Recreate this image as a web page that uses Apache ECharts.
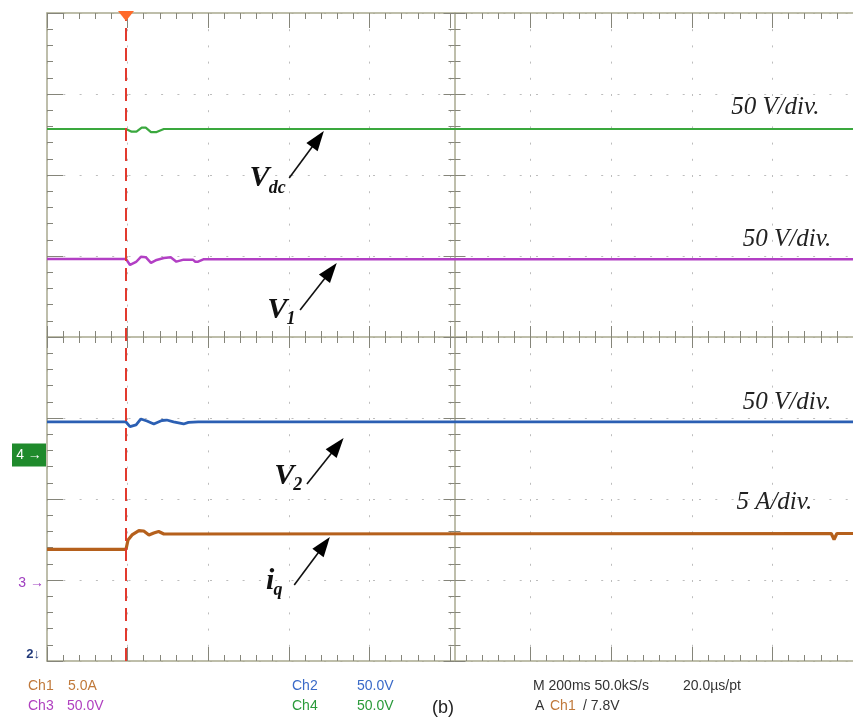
<!DOCTYPE html>
<html><head><meta charset="utf-8">
<script src="https://cdn.jsdelivr.net/npm/echarts@6/dist/echarts.min.js"></script>
<style>html,body{margin:0;padding:0;background:#fff}#c{width:853px;height:720px}</style>
</head><body><div id="c"></div>
<script>
// Time in ms (M 200 ms/div), level in screen divisions (0 = bottom edge, 8 = top edge)
const vdcTime   = [0, 196, 210, 222, 235, 245, 258, 272, 290, 2000];
const vdcLevel  = [6.568, 6.568, 6.535, 6.535, 6.585, 6.585, 6.53, 6.53, 6.568, 6.568];

const v1Time    = [0, 196, 206, 221, 233, 245, 258, 272, 290, 307, 321, 339, 362, 368, 375, 388, 2000];
const v1Level   = [4.962, 4.962, 4.889, 4.926, 4.99, 4.985, 4.914, 4.951, 4.975, 4.985, 4.93, 4.955, 4.955, 4.93, 4.93, 4.959, 4.959];

const v2Time    = [0, 196, 206, 221, 233, 248, 265, 285, 297, 314, 339, 351, 375, 2000];
const v2Level   = [2.951, 2.951, 2.893, 2.914, 2.988, 2.963, 2.926, 2.969, 2.975, 2.951, 2.926, 2.945, 2.951, 2.951];

const iqTime    = [0, 196, 201, 211, 228, 240, 253, 265, 277, 290, 1946, 1953, 1960, 2000];
const iqLevel   = [1.379, 1.379, 1.494, 1.556, 1.609, 1.605, 1.556, 1.58, 1.599, 1.568, 1.574, 1.50, 1.574, 1.574];

const triggerTime = 196;
const markerLabels = ['4 \u2192', '3 \u2192', '2\u2193'];
const markerLevels = [2.543, 0.963, 0.05];
const scaleLabels = ['50 V/div.', '50 V/div.', '50 V/div.', '5 A/div.'];

const chart = echarts.init(document.getElementById('c'), null, {renderer: 'canvas'});
const pair = (t, v) => t.map((x, i) => [x, v[i]]);
const frame = '#a9a98f', tick = '#85857a', dotC = '#bdbdbd';

function ax(kind, gridIndex, min, max, interval, position, showLine, len, mlen, split, dash) {
  return {type: 'value', gridIndex, min, max, interval, position,
    axisLine: {show: showLine, onZero: false, lineStyle: {color: frame, width: 1.5}},
    axisTick: {show: len > 0, inside: true, length: len, lineStyle: {color: tick}},
    minorTick: {show: len > 0, splitNumber: 5, length: mlen, lineStyle: {color: tick}},
    axisLabel: {show: false},
    splitLine: {show: split, lineStyle: {color: dotC, type: dash, width: 1}}};
}
const hidden = (gridIndex, min, max) => ({type: 'value', gridIndex, min, max, show: false});

const line = (data, color, width) => ({type: 'line', xAxisIndex: 0, yAxisIndex: 0, data,
  symbol: 'none', showSymbol: false, silent: true, lineStyle: {color, width}, z: 3});

chart.setOption({
  animation: false,
  backgroundColor: '#fff',
  grid: [
    {left: 47, top: 13, width: 815, height: 648},      // main screen
    {left: 454.5, top: 13, width: 407.5, height: 648}, // right half (center vertical, ticks right)
    {left: 47, top: 13, width: 407.5, height: 648},    // left half (center vertical, ticks left)
    {left: 47, top: 13, width: 815, height: 324},      // upper half (center horizontal, ticks up)
    {left: 47, top: 337, width: 815, height: 324}      // lower half (center horizontal, ticks down)
  ],
  xAxis: [
    ax('x', 0, 0, 2000, 200, 'bottom', true, 14, 6, true, [2, 14.2]),
    ax('x', 0, 0, 2000, 200, 'top', true, 15, 6, false),
    ax('x', 3, 0, 2000, 200, 'bottom', true, 11, 6, false),
    ax('x', 4, 0, 2000, 200, 'top', false, 11, 6, false),
    hidden(1, 1000, 2000),
    hidden(2, 0, 1000)
  ],
  yAxis: [
    ax('y', 0, 0, 8, 1, 'left', true, 16, 6, true, [2, 14.3]),
    ax('y', 1, 0, 8, 1, 'left', true, 11, 6, false),
    ax('y', 2, 0, 8, 1, 'right', false, 11, 6, false),
    hidden(3, 4, 8),
    hidden(4, 0, 4)
  ],
  series: [
    line(pair(vdcTime, vdcLevel), '#3aa83e', 2.2),
    line(pair(v1Time, v1Level), '#b23fc4', 2.5),
    line(pair(v2Time, v2Level), '#2b5fb3', 2.8),
    line(pair(iqTime, iqLevel), '#b5601c', 3.2),
    {type: 'line', xAxisIndex: 0, yAxisIndex: 0, data: [[triggerTime, 8]], symbol: 'none', z: 5,
     lineStyle: {width: 0},
     markLine: {silent: true, symbol: 'none', label: {show: false}, z: 5,
       lineStyle: {color: '#e23a2e', type: [13, 7], width: 2}, data: [{xAxis: triggerTime}]},
     markPoint: {silent: true, symbol: 'triangle', symbolRotate: 180, symbolSize: [16, 10],
       itemStyle: {color: '#ff6a2a'}, label: {show: false},
       data: [{coord: [triggerTime, 8], symbolOffset: [0, 3]}]}}
  ]
});

const P = (x, y) => chart.convertToPixel({gridIndex: 0}, [x, y]);
const G = [];
function arrow(a, b) {
  const p = P(a[0], a[1]), q = P(b[0], b[1]);
  const dx = q[0] - p[0], dy = q[1] - p[1], L = Math.hypot(dx, dy);
  const ux = dx / L, uy = dy / L, hl = 20, hw = 7;
  const bx = q[0] - ux * hl, by = q[1] - uy * hl, nx = -uy, ny = ux;
  G.push({type: 'line', z: 10, shape: {x1: p[0], y1: p[1], x2: bx + ux * 2, y2: by + uy * 2},
    style: {stroke: '#111', lineWidth: 1.6}});
  G.push({type: 'polygon', z: 10, shape: {points: [q, [bx + nx * hw, by + ny * hw], [bx - nx * hw, by - ny * hw]]},
    style: {fill: '#000'}});
}
function txt(t, pos, font, fill, align) {
  G.push({type: 'text', z: 10, style: {text: t, x: pos[0], y: pos[1], font, fill, align: align || 'left', verticalAlign: 'middle'}});
}
const big = 'italic bold 30px "Liberation Serif"', sub = 'italic bold 18px "Liberation Serif"';
arrow([601, 5.963], [687, 6.543]);
arrow([628, 4.333], [719, 4.914]);
arrow([645, 2.185], [736, 2.753]);
arrow([613.5, 0.938], [702, 1.531]);
txt('V', P(552, 5.963), big, '#111', 'right');  txt('dc', P(550, 5.83), sub, '#111');
txt('V', P(596, 4.333), big, '#111', 'right');  txt('1', P(594, 4.22), sub, '#111');
txt('V', P(613.5, 2.284), big, '#111', 'right'); txt('2', P(611, 2.17), sub, '#111');
txt('i', P(564, 0.98), big, '#111', 'right');   txt('q', P(562, 0.87), sub, '#111');

const scalePos = [[1917, 6.84], [1946, 5.21], [1946, 3.198], [1899, 1.963]];
scaleLabels.forEach((s, i) => txt(s, P(scalePos[i][0], scalePos[i][1]), 'italic 25px "Liberation Serif"', '#222', 'right'));

// channel ground markers
const m4 = P(0, markerLevels[0]);
G.push({type: 'rect', z: 10, shape: {x: 12, y: m4[1] - 11.5, width: 34, height: 23}, style: {fill: '#1f8a2c'}});
txt(markerLabels[0], [29, m4[1]], '14px "Liberation Sans"', '#fff', 'center');
txt(markerLabels[1], [44, P(0, markerLevels[1])[1]], '14px "Liberation Sans"', '#a040c0', 'right');
txt(markerLabels[2], [40, P(0, markerLevels[2])[1] - 3], 'bold 13px "Liberation Sans"', '#223a7a', 'right');

// bottom readout
const f = '14px "Liberation Sans"';
const orange = '#c0793a', purple = '#b040c0', blue = '#3a6ac8', green = '#2a9a3a', dark = '#333';
txt('Ch1', [28, 686], f, orange); txt('5.0A', [68, 686], f, orange);
txt('Ch3', [28, 706], f, purple); txt('50.0V', [67, 706], f, purple);
txt('Ch2', [292, 686], f, blue); txt('50.0V', [357, 686], f, blue);
txt('Ch4', [292, 706], f, green); txt('50.0V', [357, 706], f, green);
txt('(b)', [432, 708], '18px "Liberation Sans"', '#222');
txt('M 200ms 50.0kS/s', [533, 686], f, dark); txt('20.0\u00b5s/pt', [683, 686], f, dark);
txt('A', [535, 706], f, dark); txt('Ch1', [550, 706], f, orange); txt('/ 7.8V', [583, 706], f, dark);

chart.setOption({graphic: G});
</script></body></html>
